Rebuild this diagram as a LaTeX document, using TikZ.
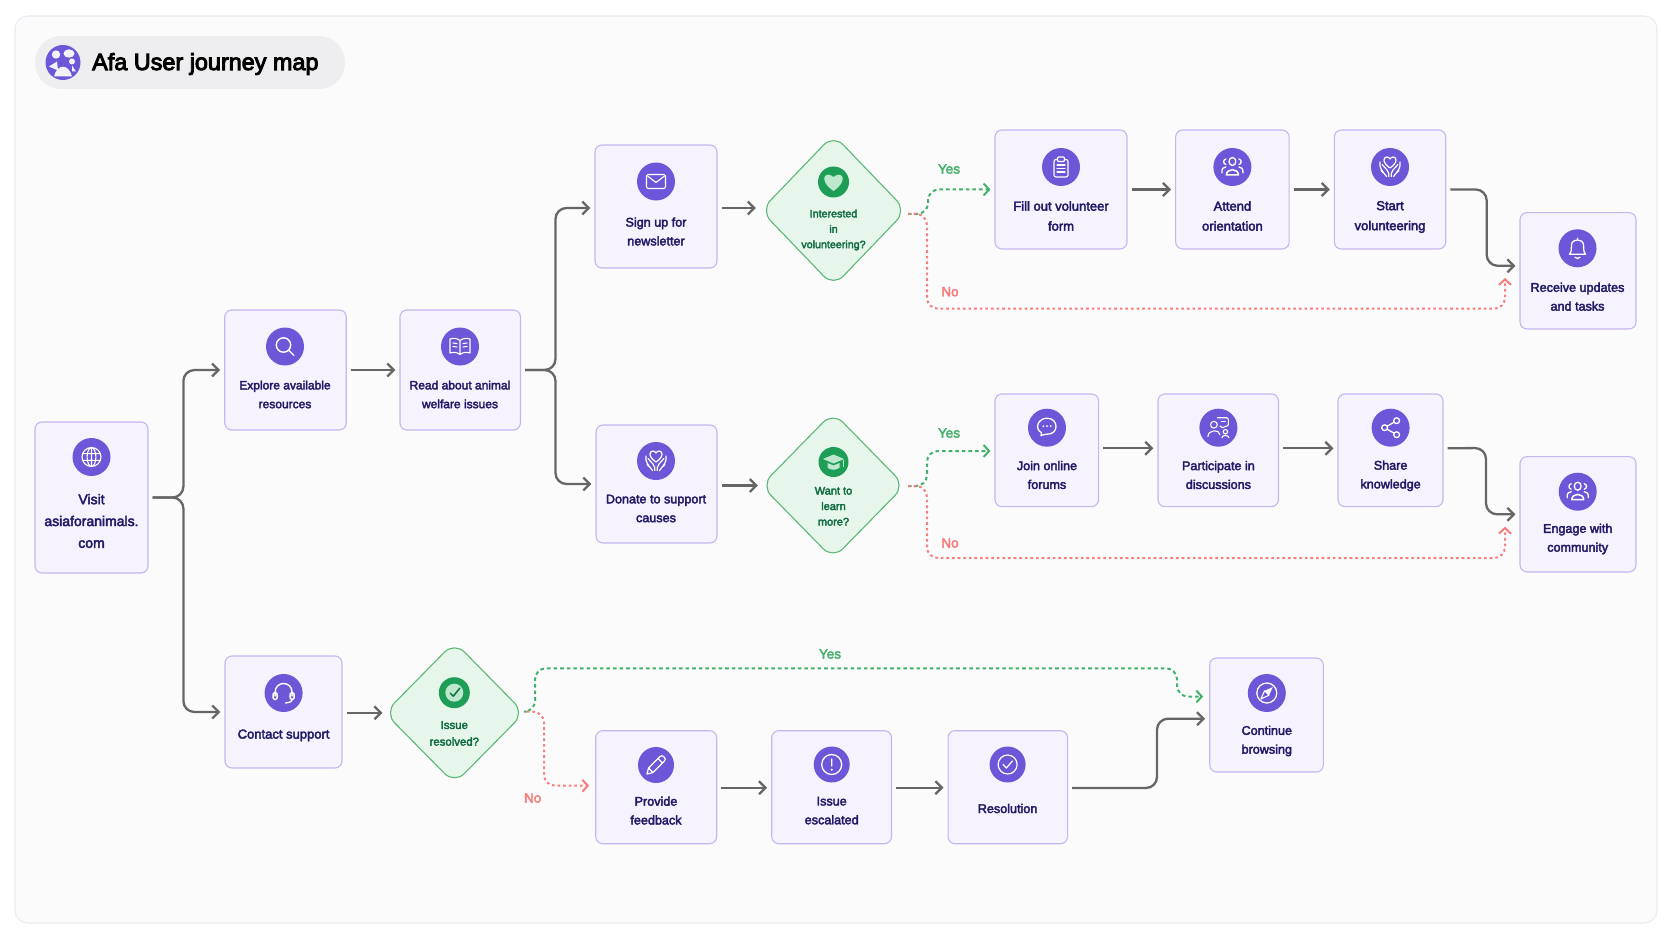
\documentclass[tikz,border=0pt]{standalone}
\usepackage{fontspec}
\setmainfont{Liberation Sans}
\newfontfamily\mapfont{Liberation Sans}[FakeBold=3]
\newfontfamily\titlefont{Liberation Sans}[FakeBold=4]
\usetikzlibrary{arrows.meta,shapes.geometric,positioning}

\definecolor{panelfill}{HTML}{FBFBFC}
\definecolor{panelline}{HTML}{ECEAF3}
\definecolor{pillfill}{HTML}{EEEEF0}
\definecolor{stepfill}{HTML}{F6F2FE}
\definecolor{stepline}{HTML}{C6B6F0}
\definecolor{ballfill}{HTML}{6E56D8}
\definecolor{steptext}{HTML}{221A66}
\definecolor{askfill}{HTML}{E7F6EB}
\definecolor{askline}{HTML}{5BB874}
\definecolor{askball}{HTML}{1D9D56}
\definecolor{asktext}{HTML}{0F6B42}
\definecolor{askglyph}{HTML}{BDE8CB}
\definecolor{flowgray}{HTML}{666666}
\definecolor{yesgreen}{HTML}{45B06B}
\definecolor{nored}{HTML}{F97C7C}

\tikzset{
  stepbox/.style={draw=stepline,fill=stepfill,line width=1.1pt,rounded corners=7pt,inner sep=0pt},
  askbox/.style={diamond,draw=askline,fill=askfill,line width=1.1pt,rounded corners=14pt,inner sep=0pt},
  stepball/.style={circle,fill=ballfill,minimum size=38pt,inner sep=0pt},
  askball/.style={circle,fill=askball,minimum size=31pt,inner sep=0pt},
  steplabel/.style={text=steptext,align=center,inner sep=0pt,font=\mapfont\fontsize{12.6}{18.8}\selectfont},
  asklabel/.style={text=asktext,align=center,inner sep=0pt,font=\mapfont\fontsize{11}{15.5}\selectfont},
  flow/.style={draw=flowgray,line width=2.3pt,-{Straight Barb[length=6.5pt,width=13pt,line width=2.3pt]},shorten <=4pt,shorten >=4pt,rounded corners=11pt},
  yesflow/.style={draw=yesgreen,line width=2pt,dash pattern=on 3.6pt off 3pt,-{Straight Barb[length=5.5pt,width=12pt,line width=2pt]},rounded corners=11pt},
  noflow/.style={draw=nored,line width=2pt,dash pattern=on 2.6pt off 3pt,-{Straight Barb[length=5.5pt,width=12pt,line width=2pt]},rounded corners=11pt},
  yeslabel/.style={text=yesgreen,inner sep=0pt,font=\mapfont\fontsize{13.5}{15}\selectfont},
  nolabel/.style={text=nored,inner sep=0pt,font=\mapfont\fontsize{13.5}{15}\selectfont},
  glyph/.style={draw=white,line width=1.1pt,fill=none,line cap=round,line join=round},
  % icons, drawn round their own centre with y pointing down
  globe/.pic={\draw[glyph] (0,0) circle (9.5) (0,0) ellipse (4.4 and 9.5) (-9,-3.4) -- (9,-3.4) (-9,3.4) -- (9,3.4) (0,-9.5) -- (0,9.5);},
  lens/.pic={\draw[glyph,line width=1.4pt] (-1.5,-1.5) circle (7.2) (3.8,3.8) -- (9,9);},
  book/.pic={\draw[glyph] (0,-6) .. controls (-3,-8.5) and (-7,-8.5) .. (-10,-7.5) -- (-10,6.5) .. controls (-7,5.5) and (-3,5.5) .. (0,8) .. controls (3,5.5) and (7,5.5) .. (10,6.5) -- (10,-7.5) .. controls (7,-8.5) and (3,-8.5) .. (0,-6) -- (0,8) (-7,-3.5) -- (-3,-3) (-7,0) -- (-3,.5) (7,-3.5) -- (3,-3) (7,0) -- (3,.5);},
  mail/.pic={\draw[glyph,rounded corners=2pt] (-9.5,-7) rectangle (9.5,7); \draw[glyph] (-8.5,-5.5) -- (0,1) -- (8.5,-5.5);},
  handheart/.pic={\draw[glyph,line width=1.2pt] (0,1) .. controls (-9,-5) and (-6,-10.5) .. (-3,-10) .. controls (-1.5,-9.8) and (-.5,-9) .. (0,-8) .. controls (.5,-9) and (1.5,-9.8) .. (3,-10) .. controls (6,-10.5) and (9,-5) .. (0,1) (-10,-5) .. controls (-11,1) and (-8,3.5) .. (-3.5,9.5) (-8,-2.5) -- (-3,3) .. controls (-1,5) and (-1.2,7.5) .. (-1.2,9.5) (10,-5) .. controls (11,1) and (8,3.5) .. (3.5,9.5) (8,-2.5) -- (3,3) .. controls (1,5) and (1.2,7.5) .. (1.2,9.5) (-6.5,6) -- (-9,3.5) (6.5,6) -- (9,3.5);},
  clipboard/.pic={\draw[glyph,rounded corners=2pt] (-7,-7.5) rectangle (7,10); \draw[glyph,fill=ballfill,rounded corners=1pt] (-3.5,-10) rectangle (3.5,-5.5); \draw[glyph] (-4,-2) -- (4,-2) (-4,1.5) -- (4,1.5) (-4,5) -- (4,5);},
  crowd/.pic={\draw[glyph,line width=1.3pt] (0,-5.5) ellipse (3.4 and 4); \draw[glyph,line width=1.5pt] (-6,8) .. controls (-6,1) and (6,1) .. (6,8) -- cycle; \draw[glyph,line width=1.3pt] (-6.5,-8) .. controls (-9.5,-7.5) and (-9.5,-3) .. (-6.5,-2.5) (6.5,-8) .. controls (9.5,-7.5) and (9.5,-3) .. (6.5,-2.5) (-10.5,6) .. controls (-11,1.5) and (-9,0) .. (-6.5,0) (10.5,6) .. controls (11,1.5) and (9,0) .. (6.5,0);},
  bell/.pic={\draw[glyph,line width=1.3pt] (-8,6) .. controls (-5.5,3) and (-6.5,0) .. (-6,-3.5) .. controls (-5.5,-10) and (5.5,-10) .. (6,-3.5) .. controls (6.5,0) and (5.5,3) .. (8,6) -- cycle (-2.5,9) .. controls (-1,10.5) and (1,10.5) .. (2.5,9) (0,-9) -- (0,-10);},
  chat/.pic={\draw[glyph,line width=1.3pt] (-6,8) -- (-5.5,5) .. controls (-13,1) and (-9,-9.5) .. (0,-9.5) .. controls (12,-9.5) and (12,7) .. (0,6.5) .. controls (-2,6.5) and (-4,7) .. (-6,8) -- cycle; \fill[white] (-3.7,-1.5) circle (1) (0,-1.5) circle (1) (3.7,-1.5) circle (1);},
  discuss/.pic={\draw[glyph] (-4.5,-3) circle (3.4) (-10.5,9) .. controls (-10.5,1.5) and (1.5,1.5) .. (1.5,7) (7,4) circle (2.2) (3.5,10) .. controls (3.5,7) and (10.5,7) .. (10.5,10); \draw[glyph,rounded corners=1.5pt] (-1,-10) -- (10,-10) -- (10,-1.5) -- (6,-1.5) -- (4,1) -- (3.5,-1.5) -- (1.5,-1.5); \draw[glyph] (3,-6) -- (7,-6);},
  share/.pic={\draw[glyph,line width=1.3pt] (-6,0) circle (2.9) (6,-7) circle (2.9) (6,7) circle (2.9) (-3.4,-1.6) -- (3.4,-5.4) (-3.4,1.6) -- (3.4,5.4);},
  headset/.pic={\draw[glyph,line width=1.4pt] (-8.5,3) -- (-8.5,-.5) .. controls (-8.5,-12.5) and (8.5,-12.5) .. (8.5,-.5) -- (8.5,3) (8.5,6) .. controls (8.5,9) and (5,10) .. (2,10); \draw[glyph,rounded corners=1.5pt,line width=1.4pt] (-10.5,-.5) rectangle (-6.5,6.5) (6.5,-.5) rectangle (10.5,6.5);},
  pencil/.pic={\draw[glyph,line width=1.2pt] (-9,9) -- (-7.5,3) -- (4,-8.5) .. controls (5,-9.5) and (6.5,-9.5) .. (7.5,-8.5) -- (8.5,-7.5) .. controls (9.5,-6.5) and (9.5,-5) .. (8.5,-4) -- (-3,7.5) -- cycle (2,-6.5) -- (6.5,-2) (-7.5,3) -- (-3,7.5);},
  alert/.pic={\draw[glyph,line width=1.3pt] (0,0) circle (10) (0,-5.5) -- (0,1.5); \fill[white] (0,5.2) circle (1.1);},
  okring/.pic={\draw[glyph,line width=1.2pt] (0,0) circle (9.5) (-4.5,0) -- (-1.2,3.5) -- (4.8,-3.5);},
  compass/.pic={\draw[glyph,line width=1.3pt] (0,0) circle (10); \fill[white] (6,-6) -- (2.2,2.2) -- (-2.2,-2.2) -- cycle; \draw[white,line width=1.1pt,line join=round] (-6,6) -- (2.2,2.2) -- (-2.2,-2.2) -- cycle;},
  askheart/.pic={\fill[askglyph] (0,9) .. controls (-16,-2) and (-8,-12) .. (0,-5) .. controls (8,-12) and (16,-2) .. (0,9) -- cycle;},
  askcap/.pic={\fill[askglyph] (-10.5,-3) -- (0,-7.5) -- (10.5,-3) -- (0,1.5) -- cycle; \fill[askglyph] (-6,1) -- (0,3.5) -- (6,1) -- (6,5.5) .. controls (3.5,8.5) and (-3.5,8.5) .. (-6,5.5) -- cycle; \draw[askglyph,line width=1pt] (9.5,-2.5) -- (9.5,4.5);},
  askcheck/.pic={\fill[askglyph] (0,0) circle (9); \draw[asktext,line width=1.5pt,line cap=round,line join=round] (-4,.5) -- (-1,3.5) -- (5.5,-4.5);},
  logoglyph/.pic={\fill[white,opacity=.92] (-7,-8) circle (4.2) (6,-9) ellipse (5.5 and 4.2) (-14,4) -- (-6,-1) -- (-5,8) -- cycle (9,-1) circle (3) (9,3) -- (13,9) -- (9,9) -- cycle (-9,14) .. controls (-6,1) and (6,1) .. (9,14) -- cycle;}
}

\begin{document}
\begin{tikzpicture}[x=1pt,y=-1pt]
\useasboundingbox (0,0) rectangle (1672,941);
\fill[white] (0,0) rectangle (1672,941);
\draw[panelline,fill=panelfill,line width=1.1pt,rounded corners=13pt] (15,16) rectangle (1657,923);

% title
\node[fill=pillfill,rounded corners=26pt,minimum width=310pt,minimum height=53pt,inner sep=0pt] (titlepill) at (190,62.5) {};
\node[stepball,minimum size=35pt] (titleball) at (63,62.5) {};
\pic at (titleball) {logoglyph};
\node[anchor=west,inner sep=0pt,text=black,font=\titlefont\fontsize{23.4}{25}\selectfont] (titletext) at (92,64) {Afa User journey map};

% steps
\node[stepbox,minimum width=113pt,minimum height=151pt] (visit) at (91.5,497.5) {};
\node[stepball] (visiti) at (91.5,457) {};
\pic at (visiti) {globe};
\node[steplabel,font=\mapfont\fontsize{14}{21.8}\selectfont] (visitt) at (91.5,521) {Visit\\asiaforanimals.\\com};

\node[stepbox,minimum width=121.5pt,minimum height=120pt] (explore) at (285.5,370) {};
\node[stepball] (explorei) at (285,346.5) {};
\pic at (explorei) {lens};
\node[steplabel,font=\mapfont\fontsize{12}{18.8}\selectfont] (exploret) at (285,394.5) {Explore available\\resources};

\node[stepbox,minimum width=120.5pt,minimum height=120pt] (readup) at (460.2,370) {};
\node[stepball] (readupi) at (460,346.5) {};
\pic at (readupi) {book};
\node[steplabel,font=\mapfont\fontsize{12}{18.8}\selectfont] (readupt) at (460,394.5) {Read about animal\\welfare issues};

\node[stepbox,minimum width=122pt,minimum height=123pt] (signup) at (656,206.5) {};
\node[stepball] (signupi) at (656,181.5) {};
\pic at (signupi) {mail};
\node[steplabel] (signupt) at (656,231.5) {Sign up for\\newsletter};

\node[stepbox,minimum width=121pt,minimum height=118pt] (donate) at (656.5,484) {};
\node[stepball] (donatei) at (656,461) {};
\pic at (donatei) {handheart};
\node[steplabel] (donatet) at (656,508.5) {Donate to support\\causes};

\node[stepbox,minimum width=132pt,minimum height=119pt] (form) at (1061,189.5) {};
\node[stepball] (formi) at (1061,167) {};
\pic at (formi) {clipboard};
\node[steplabel,font=\mapfont\fontsize{13}{20}\selectfont] (formt) at (1061,216) {Fill out volunteer\\form};

\node[stepbox,minimum width=113.5pt,minimum height=119pt] (attend) at (1232.4,189.5) {};
\node[stepball] (attendi) at (1232.4,167) {};
\pic at (attendi) {crowd};
\node[steplabel,font=\mapfont\fontsize{13}{20}\selectfont] (attendt) at (1232.4,216) {Attend\\orientation};

\node[stepbox,minimum width=111.4pt,minimum height=119pt] (startvol) at (1390,189.5) {};
\node[stepball] (startvoli) at (1390,167) {};
\pic at (startvoli) {handheart};
\node[steplabel,font=\mapfont\fontsize{13}{20}\selectfont] (startvolt) at (1390,217) {Start\\volunteering};

\node[stepbox,minimum width=116pt,minimum height=116.3pt] (receive) at (1578,270.8) {};
\node[stepball] (receivei) at (1577.5,248.3) {};
\pic at (receivei) {bell};
\node[steplabel] (receivet) at (1577.5,296.7) {Receive updates\\and tasks};

\node[stepbox,minimum width=103.6pt,minimum height=112.7pt] (forums) at (1046.8,450.3) {};
\node[stepball] (forumsi) at (1047,427.7) {};
\pic at (forumsi) {chat};
\node[steplabel] (forumst) at (1047,475) {Join online\\forums};

\node[stepbox,minimum width=120.5pt,minimum height=112.7pt] (discuss) at (1218.2,450.3) {};
\node[stepball] (discussi) at (1218.4,427.7) {};
\pic at (discussi) {discuss};
\node[steplabel] (discusst) at (1218.4,475) {Participate in\\discussions};

\node[stepbox,minimum width=105pt,minimum height=112.7pt] (shareit) at (1390.5,450.3) {};
\node[stepball] (shareiti) at (1390.6,427.7) {};
\pic at (shareiti) {share};
\node[steplabel] (shareitt) at (1390.6,475.8) {Share\\knowledge};

\node[stepbox,minimum width=116pt,minimum height=115.3pt] (engage) at (1578,514.3) {};
\node[stepball] (engagei) at (1577.7,491.7) {};
\pic at (engagei) {crowd};
\node[steplabel] (engaget) at (1577.7,539) {Engage with\\community};

\node[stepbox,minimum width=117pt,minimum height=112pt] (contact) at (283.5,712) {};
\node[stepball] (contacti) at (283.6,693) {};
\pic at (contacti) {headset};
\node[steplabel,font=\mapfont\fontsize{13}{18.8}\selectfont] (contactt) at (283.6,735.4) {Contact support};

\node[stepbox,minimum width=121pt,minimum height=113pt] (feedback) at (656.2,787.2) {};
\node[stepball,minimum size=36pt] (feedbacki) at (656,765) {};
\pic at (feedbacki) {pencil};
\node[steplabel] (feedbackt) at (656,810.6) {Provide\\feedback};

\node[stepbox,minimum width=119.8pt,minimum height=113pt] (escalate) at (831.6,787.2) {};
\node[stepball,minimum size=36pt] (escalatei) at (831.7,764.5) {};
\pic at (escalatei) {alert};
\node[steplabel] (escalatet) at (831.7,810.6) {Issue\\escalated};

\node[stepbox,minimum width=119.5pt,minimum height=113pt] (resolve) at (1007.8,787.2) {};
\node[stepball,minimum size=36pt] (resolvei) at (1007.6,764.5) {};
\pic at (resolvei) {okring};
\node[steplabel] (resolvet) at (1007.6,808.5) {Resolution};

\node[stepbox,minimum width=113.6pt,minimum height=114pt] (browse) at (1266.5,715) {};
\node[stepball] (browsei) at (1266.8,693) {};
\pic at (browsei) {compass};
\node[steplabel] (browset) at (1266.8,741) {Continue\\browsing};

% questions
\node[askbox,minimum width=146pt,minimum height=152pt] (askvol) at (833.5,210.5) {};
\node[askball] (askvoli) at (833.5,182) {};
\pic at (askvoli) {askheart};
\node[asklabel,font=\mapfont\fontsize{10.7}{15.4}\selectfont] (askvolt) at (833.5,230) {Interested\\in\\volunteering?};

\node[askbox,minimum width=144pt,minimum height=147pt] (asklearn) at (833,485.5) {};
\node[askball,minimum size=30pt] (asklearni) at (833.5,462) {};
\pic at (asklearni) {askcap};
\node[asklabel] (asklearnt) at (833.5,506.3) {Want to\\learn\\more?};

\node[askbox,minimum width=140pt,minimum height=142pt] (askdone) at (454.5,712.8) {};
\node[askball] (askdonei) at (454.3,692.7) {};
\pic at (askdonei) {askcheck};
\node[asklabel,font=\mapfont\fontsize{11.4}{16.7}\selectfont] (askdonet) at (454.3,733.4) {Issue\\resolved?};

% bends
\coordinate (visitbus) at (183.4,497.5);
\coordinate (readbus) at (555.5,370);
\coordinate (startbus) at (1486.7,189.5);
\coordinate (sharebus) at (1486,448);
\coordinate (resolvebus) at (1157,788);

\draw[flow] (visit.east) -- (visitbus) |- (explore.west);
\draw[flow] (visit.east) -- (visitbus) |- (contact.west);
\draw[flow] (explore.east) -- (readup.west);
\draw[flow] (readup.east) -- (readbus) |- ([yshift=-1.5pt]signup.west);
\draw[flow] (readup.east) -- (readbus) |- (donate.west);
\draw[flow] ([yshift=-1.5pt]signup.east) -- ([yshift=2.5pt]askvol.west);
\draw[flow] ([yshift=-1.5pt]donate.east) -- ([xshift=1.5pt]asklearn.west);
\draw[flow] (form.east) -- (attend.west);
\draw[flow] (attend.east) -- (startvol.west);
\draw[flow] (startvol.east) -- (startbus) |- ([yshift=5pt]receive.west);
\draw[flow] ([yshift=2pt]forums.east) -- ([yshift=2pt]discuss.west);
\draw[flow] ([yshift=2pt]discuss.east) -- ([yshift=2pt]shareit.west);
\draw[flow] ([yshift=2pt]shareit.east) -- (sharebus) |- (engage.west);
\draw[flow] ([yshift=-.8pt]contact.east) -- ([xshift=2.5pt]askdone.west);
\draw[flow] ([yshift=-.5pt]feedback.east) -- ([yshift=-.5pt]escalate.west);
\draw[flow] ([yshift=-.5pt]escalate.east) -- ([yshift=-.5pt]resolve.west);
\draw[flow] ([yshift=-.8pt]resolve.east) -- (resolvebus) |- ([yshift=-3.7pt]browse.west);

% yes and no branches
\coordinate (askvolout) at (908,214);
\coordinate (askvolyes) at (928,214);
\coordinate (askvolno) at (927,308.7);
\coordinate (askvolend) at (1505,308.7);
\coordinate (askvoltip) at (1505,278);
\draw[yesflow] (askvolout) -- (askvolyes) |- ([xshift=-4pt]form.west);
\draw[noflow] (askvolout) -| (askvolno) -- (askvolend) -- (askvoltip);
\node[yeslabel] (askvolyest) at (949,169) {Yes};
\node[nolabel] (askvolnot) at (950,291.7) {No};

\coordinate (asklearnout) at (908,486);
\coordinate (asklearnyes) at (927,486);
\coordinate (asklearnno) at (927,558);
\coordinate (asklearnend) at (1505,558);
\coordinate (asklearntip) at (1505,526.7);
\draw[yesflow] (asklearnout) -- (asklearnyes) |- ([xshift=-4pt,yshift=-.7pt]forums.west);
\draw[noflow] (asklearnout) -| (asklearnno) -- (asklearnend) -- (asklearntip);
\node[yeslabel] (asklearnyest) at (949,433) {Yes};
\node[nolabel] (asklearnnot) at (950,543) {No};

\coordinate (askdoneout) at (526.7,711.7);
\coordinate (askdoneyes) at (535,711.7);
\coordinate (askdonetop) at (535,668.3);
\coordinate (askdonedrop) at (1177,668.3);
\coordinate (askdoneno) at (544,711.7);
\draw[yesflow] (askdoneout) -- (askdoneyes) -- (askdonetop) -- (askdonedrop) |- ([xshift=-6pt,yshift=18.5pt]browse.west);
\draw[noflow] (askdoneout) -- (askdoneno) |- ([xshift=-6pt,yshift=1.5pt]feedback.west);
\node[yeslabel] (askdoneyest) at (830,654) {Yes};
\node[nolabel] (askdonenot) at (532.7,798) {No};
\end{tikzpicture}
\end{document}
